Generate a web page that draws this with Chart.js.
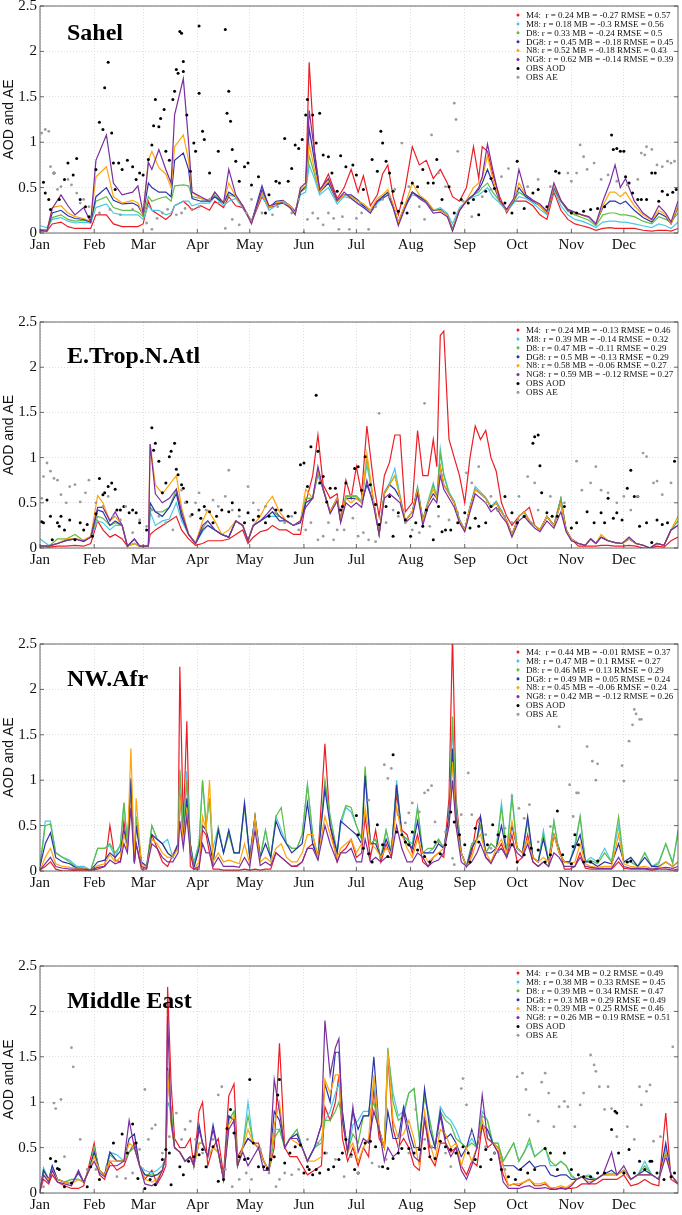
<!DOCTYPE html>
<html>
<head>
<meta charset="utf-8">
<script src="https://cdn.jsdelivr.net/npm/chart.js@4.4.0/dist/chart.umd.min.js"></script>
<style>
  body { margin: 0; background: #fff; width: 682px; height: 1215px; position: relative; overflow: hidden; }
  canvas { position: absolute; left: 0; }
</style>
</head>
<body>
<canvas id="c1" style="top:-6px"></canvas>
<canvas id="c2" style="top:310px"></canvas>
<canvas id="c3" style="top:632px"></canvas>
<canvas id="c4" style="top:954px"></canvas>
<script>
// month ticks (day of year)
const monthStarts = [0, 31, 59, 90, 120, 151, 181, 212, 243, 273, 304, 334];
const monthNames = ['Jan', 'Feb', 'Mar', 'Apr', 'May', 'Jun', 'Jul', 'Aug', 'Sep', 'Oct', 'Nov', 'Dec'];
const yTicks = [0, 0.5, 1, 1.5, 2, 2.5];

// ---------- Sahel ----------
const sahelDays = [0,4,7,12,16,20,25,29,32,38, 42,47,53,56,59,62,64,68,72,75, 77,82,85,87,92,97,100,105,108,112,
  116,121,127,131,135,139,143,146,149,152, 154,157,160,165,170,174,178,182,185,189, 193,196,199,202,205,209,213,217,221,225,
  229,233,236,240,244,248,251,253,256,259, 263,267,271,274,278,282,286,290,294,298, 302,306,310,314,318,322,326,329,332,335,
  340,345,350,354,358,361,365];
const sahelM4 = [0.02,0.02,0.10,0.12,0.07,0.05,0.05,0.05,0.20,0.20, 0.10,0.07,0.07,0.07,0.10,0.35,0.25,0.20,0.15,0.20,
  0.30,0.35,0.30,0.25,0.30,0.25,0.35,0.28,0.40,0.30, 0.28,0.12,0.40,0.28,0.30,0.35,0.28,0.22,0.45,0.50,
  1.88,0.90,0.45,0.65,0.38,0.50,0.70,0.45,0.63,0.30, 0.42,0.65,0.75,0.40,0.20,0.50,0.95,0.75,0.80,0.60,
  0.70,0.55,0.40,0.35,0.50,0.95,0.60,0.95,0.90,0.65, 0.40,0.22,0.35,0.35,0.35,0.30,0.20,0.15,0.45,0.25,
  0.15,0.10,0.08,0.06,0.03,0.05,0.06,0.05,0.05,0.05, 0.05,0.03,0.02,0.03,0.03,0.02,0.05];
const sahelM8 = [0.08,0.06,0.15,0.17,0.13,0.11,0.12,0.11,0.28,0.32, 0.22,0.20,0.20,0.20,0.15,0.30,0.25,0.25,0.20,0.22,
  0.30,0.35,0.35,0.30,0.33,0.33,0.40,0.30,0.35,0.38, 0.28,0.14,0.42,0.25,0.30,0.33,0.28,0.22,0.42,0.45,
  0.75,0.60,0.42,0.50,0.32,0.40,0.38,0.33,0.30,0.22, 0.33,0.38,0.42,0.28,0.10,0.30,0.42,0.40,0.35,0.25,
  0.28,0.22,0.10,0.28,0.35,0.40,0.42,0.45,0.50,0.40, 0.33,0.24,0.33,0.40,0.38,0.33,0.26,0.20,0.48,0.30,
  0.20,0.15,0.13,0.10,0.06,0.12,0.13,0.13,0.12,0.12, 0.10,0.08,0.06,0.10,0.08,0.05,0.12];
const sahelD8 = [0.04,0.03,0.17,0.20,0.15,0.13,0.14,0.12,0.35,0.40, 0.28,0.25,0.25,0.23,0.18,0.40,0.35,0.38,0.40,0.35,
  0.52,0.53,0.52,0.40,0.38,0.35,0.42,0.33,0.42,0.40, 0.30,0.12,0.45,0.28,0.33,0.35,0.30,0.22,0.45,0.50,
  0.85,0.65,0.45,0.55,0.35,0.42,0.40,0.35,0.32,0.25, 0.35,0.40,0.45,0.30,0.12,0.32,0.45,0.40,0.35,0.25,
  0.25,0.20,0.05,0.25,0.35,0.42,0.45,0.50,0.55,0.45, 0.35,0.25,0.35,0.45,0.40,0.35,0.30,0.22,0.50,0.35,
  0.24,0.20,0.17,0.14,0.08,0.20,0.22,0.22,0.20,0.20, 0.18,0.13,0.10,0.18,0.15,0.12,0.22];
const sahelDG8 = [0.03,0.03,0.22,0.25,0.19,0.16,0.15,0.12,0.40,0.50, 0.36,0.32,0.33,0.30,0.20,0.55,0.50,0.45,0.45,0.40,
  0.80,0.88,0.70,0.38,0.35,0.35,0.40,0.33,0.45,0.40, 0.30,0.12,0.52,0.28,0.35,0.36,0.30,0.24,0.45,0.52,
  1.15,0.80,0.45,0.55,0.35,0.42,0.42,0.36,0.30,0.25, 0.35,0.40,0.45,0.30,0.12,0.30,0.45,0.40,0.35,0.25,
  0.26,0.20,0.04,0.25,0.36,0.42,0.48,0.55,0.70,0.55, 0.35,0.25,0.35,0.50,0.40,0.35,0.30,0.22,0.50,0.35,
  0.25,0.22,0.20,0.17,0.10,0.28,0.35,0.35,0.32,0.35, 0.25,0.17,0.12,0.22,0.18,0.10,0.28];
const sahelN8 = [0.03,0.02,0.28,0.30,0.22,0.18,0.16,0.13,0.62,0.73, 0.40,0.33,0.36,0.33,0.20,0.80,0.90,0.72,0.65,0.50,
  0.95,1.08,0.80,0.45,0.38,0.36,0.45,0.33,0.55,0.40, 0.30,0.12,0.45,0.28,0.33,0.35,0.30,0.22,0.48,0.52,
  0.98,0.70,0.45,0.58,0.35,0.42,0.40,0.35,0.32,0.25, 0.38,0.42,0.48,0.32,0.12,0.32,0.55,0.42,0.36,0.26,
  0.25,0.20,0.03,0.26,0.36,0.50,0.55,0.60,0.85,0.60, 0.35,0.25,0.36,0.55,0.42,0.36,0.30,0.22,0.52,0.36,
  0.26,0.22,0.20,0.17,0.10,0.30,0.45,0.45,0.40,0.45, 0.30,0.20,0.14,0.25,0.20,0.10,0.30];
const sahelNG8 = [0.03,0.02,0.27,0.42,0.30,0.20,0.28,0.12,0.80,1.08, 0.55,0.42,0.45,0.52,0.22,0.78,0.70,0.92,0.70,0.55,
  1.30,1.70,1.00,0.45,0.40,0.35,0.45,0.33,0.70,0.42, 0.30,0.10,0.48,0.30,0.32,0.33,0.28,0.20,0.50,0.55,
  1.35,0.90,0.48,0.60,0.36,0.45,0.38,0.32,0.28,0.22, 0.35,0.38,0.42,0.28,0.08,0.28,0.45,0.38,0.33,0.22,
  0.23,0.18,0.02,0.25,0.35,0.42,0.50,0.62,0.98,0.70, 0.36,0.26,0.38,0.70,0.42,0.36,0.32,0.24,0.55,0.36,
  0.26,0.23,0.20,0.18,0.10,0.35,0.55,0.75,0.50,0.60, 0.35,0.22,0.15,0.30,0.22,0.12,0.35];
const sahelAodDays = [2,3,5,6,8,11,14,16,19,21, 23,26,28,32,34,36,37,39,41,42, 43,45,47,50,53,55,57,59,62,64,
  65,66,68,69,71,72,74,76,77,78, 79,80,81,82,82,84,86,88,89,91, 91,93,94,97,102,106,107,108,109,110,
  112,114,117,119,121,125,129,131,135,137, 140,142,144,146,148,150,152,153,156,158, 160,162,165,167,170,
  172,175,179,181,185,190,193,195,196,198, 200,202,205,207,210,213,216,219,222,225, 227,230,234,237,241,245,248,251,255,258,
  260,266,270,273,277,282,285,290,295,297, 304,307,311,315,319,323,327,328,330,332, 334,335,337,339,342,344,347,350,352,354,
  356,359,362,364];
const sahelAodVals = [0.56,0.44,0.37,0.26,0.66,0.37,0.59,0.77,0.64,0.82, 0.37,0.29,0.18,0.70,1.22,1.14,1.60,1.88,1.10,0.77,
  0.48,0.77,0.70,0.80,0.73,0.59,0.66,0.64,0.81,0.97, 1.18,1.47,1.17,1.26,1.36,0.90,0.80,1.47,1.56,1.80,
  1.76,2.22,2.20,1.89,1.78,1.30,0.68,0.99,0.90,2.28, 1.54,1.12,1.03,0.66,0.90,2.24,1.32,1.56,1.23,0.92,
  0.79,0.57,0.73,0.77,0.53,0.62,0.22,0.42,0.57,0.55, 1.04,0.57,0.71,0.97,0.93,1.03,1.30,1.47,1.30,0.99, 1.32,0.86,0.84,0.66,0.46,
  0.85,0.73,0.75,0.64,0.48,0.81,0.68,1.12,0.99,0.79, 0.66,0.46,0.24,0.33,0.22,0.55,0.51,0.70,0.55,0.55,
  0.81,0.37,0.51,0.22,0.37,0.33,0.37,0.20,0.46,0.60, 0.49,0.33,0.22,0.79,0.27,0.44,0.48,0.29,0.68,0.66,
  0.22,0.22,0.24,0.26,0.27,0.29,1.08,0.92,0.93,0.90, 0.90,0.62,0.55,0.44,0.37,0.37,0.37,0.66,0.66,0.35, 0.46,0.42,0.45,0.48];
const sahelAeDays = [1,3,5,6,8,10,12,16,18,21, 23,25,28,34,40,46,53,61,64,67, 70,73,78,81,83,87,91,97,102,106,
  110,114,118,121,127,133,136,140,144,148, 151,153,156,159,162,165,168,171, 173,177,181,184,188,192,196,200,203,207,
  211,217,220,224,228,232,237,238,239,242, 247,253,258,264,268,273,279,285,292,302, 304,307,309,311,313,317,321,325,330,336,
  342,344,346,347,350,353,356,359,361,363];
const sahelAeVals = [1.10,1.14,1.12,0.73,0.66,0.48,0.51,0.59,0.53,0.44, 0.33,0.37,0.29,0.22,0.26,0.20,0.26,0.11,0.04,0.16,
  0.22,0.26,0.20,0.22,0.27,0.26,0.29,0.37,0.33,0.05, 0.15,0.09,0.22,0.37,0.22,0.20,0.29,0.33,0.22,0.37,
  0.00,0.15,0.22,0.16,0.09,0.22,0.16,0.04, 0.18,0.04,0.16,0.22,0.04,0.29,0.37,0.40,0.48,0.99,
  0.51,0.29,0.15,1.08,0.66,0.51,1.43,1.25,0.90,0.35, 0.18,0.40,0.48,0.62,0.71,0.44,0.51,0.59,0.51,0.66,
  0.57,0.66,0.97,0.84,0.70,0.77,0.59,0.64,0.57,0.53, 0.59,0.88,0.86,0.95,0.92,0.75,0.73,0.79,0.77,0.79];
const sahelStats = ['M4:  r = 0.24 MB = -0.27 RMSE = 0.57', 'M8: r = 0.18 MB = -0.3 RMSE = 0.56', 'D8: r = 0.33 MB = -0.24 RMSE = 0.5',
  'DG8: r = 0.45 MB = -0.18 RMSE = 0.45', 'N8: r = 0.52 MB = -0.18 RMSE = 0.43', 'NG8: r = 0.62 MB = -0.14 RMSE = 0.39', 'OBS AOD', 'OBS AE'];

// ---------- E.Trop.N.Atl ----------
const atlDays = [0,5,10,15,20,25,29,33,36,40, 43,47,50,54,57,62,63,66,70,74, 78,81,85,89,93,96,100,104,108,112,
  116,119,122,126,130,133,137,141,145,149, 152,156,159,162,166,170,172,175,178,181, 184,187,191,194,197,200,203,206,209,213,
  216,219,222,225,227,229,231,234,237,240, 243,246,249,252,255,258,261,264,267,270, 274,277,280,283,286,290,294,298,301,304,
  308,312,315,318,321,325,329,333,337,341, 345,349,353,357,361,365];
const atlM4 = [0.02,0.01,0.02,0.02,0.03,0.02,0.05,0.30,0.20,0.12, 0.15,0.10,0.02,0.05,0.02,0.02,0.15,0.20,0.25,0.30,
  0.35,0.20,0.10,0.03,0.05,0.08,0.08,0.08,0.10,0.15, 0.20,0.05,0.12,0.18,0.20,0.25,0.20,0.20,0.15,0.15,
  0.50,0.80,1.25,0.70,0.55,0.60,0.30,0.75,0.55,0.90, 0.60,1.35,0.70,0.35,0.80,0.95,1.25,1.25,0.40,0.50,
  1.30,0.80,0.80,1.20,0.90,2.35,2.40,1.20,1.00,0.80, 0.50,1.00,1.35,1.20,1.30,1.00,0.85,0.50,0.35,0.25,
  0.35,0.40,0.45,0.25,0.20,0.35,0.25,0.55,0.20,0.10, 0.02,0.02,0.02,0.02,0.03,0.03,0.02,0.02,0.03,0.02,
  0.00,0.00,0.02,0.01,0.08,0.12];
const atlM8 = [0.10,0.03,0.05,0.08,0.10,0.08,0.12,0.30,0.28,0.20, 0.25,0.25,0.02,0.05,0.02,0.02,0.40,0.25,0.30,0.32,
  0.50,0.30,0.15,0.05,0.18,0.25,0.20,0.15,0.12,0.30, 0.25,0.08,0.25,0.30,0.35,0.35,0.35,0.30,0.25,0.30,
  0.55,0.55,0.80,0.65,0.40,0.55,0.30,0.58,0.58,0.58, 0.52,0.92,0.50,0.15,0.62,0.72,0.88,0.58,0.30,0.40,
  0.68,0.32,0.52,0.72,0.55,1.10,0.82,0.62,0.52,0.32, 0.20,0.46,0.68,0.62,0.56,0.46,0.52,0.42,0.30,0.15,
  0.35,0.40,0.30,0.25,0.20,0.35,0.25,0.55,0.20,0.10, 0.05,0.03,0.10,0.05,0.12,0.08,0.06,0.05,0.10,0.05,
  0.03,0.00,0.05,0.03,0.20,0.30];
const atlD8 = [0.03,0.02,0.10,0.10,0.15,0.08,0.12,0.35,0.33,0.25, 0.28,0.25,0.02,0.05,0.02,0.02,0.45,0.40,0.40,0.45,
  0.65,0.35,0.15,0.05,0.22,0.30,0.20,0.15,0.12,0.30, 0.25,0.08,0.25,0.30,0.35,0.40,0.35,0.30,0.25,0.30,
  0.55,0.55,0.85,0.65,0.40,0.55,0.30,0.57,0.57,0.57, 0.50,1.00,0.50,0.15,0.60,0.70,0.80,0.57,0.30,0.40,
  0.67,0.30,0.50,0.70,0.55,1.05,0.80,0.60,0.50,0.30, 0.20,0.45,0.65,0.60,0.55,0.45,0.50,0.40,0.30,0.15,
  0.35,0.40,0.30,0.25,0.20,0.35,0.25,0.55,0.20,0.10, 0.05,0.03,0.10,0.05,0.12,0.08,0.06,0.05,0.10,0.05,
  0.03,0.00,0.05,0.03,0.20,0.30];
const atlDG8 = [0.02,0.02,0.05,0.09,0.10,0.08,0.12,0.42,0.40,0.25, 0.30,0.25,0.02,0.10,0.02,0.02,0.50,0.40,0.35,0.45,
  0.60,0.35,0.15,0.05,0.20,0.25,0.20,0.15,0.12,0.30, 0.25,0.08,0.25,0.30,0.35,0.40,0.30,0.30,0.25,0.28,
  0.50,0.55,0.85,0.65,0.40,0.55,0.30,0.55,0.55,0.55, 0.50,0.70,0.50,0.15,0.60,0.70,0.65,0.55,0.30,0.40,
  0.65,0.30,0.50,0.60,0.55,0.90,0.70,0.60,0.50,0.30, 0.20,0.45,0.65,0.60,0.55,0.45,0.50,0.40,0.30,0.15,
  0.35,0.40,0.30,0.25,0.20,0.35,0.25,0.50,0.20,0.10, 0.05,0.03,0.10,0.05,0.12,0.08,0.06,0.05,0.10,0.05,
  0.03,0.00,0.05,0.03,0.20,0.25];
const atlN8 = [0.02,0.02,0.05,0.10,0.10,0.09,0.13,0.58,0.50,0.30, 0.35,0.25,0.02,0.05,0.02,0.02,1.15,0.70,0.60,0.70,
  0.80,0.45,0.16,0.05,0.30,0.42,0.30,0.15,0.20,0.30, 0.25,0.08,0.25,0.35,0.50,0.57,0.40,0.30,0.25,0.30,
  0.65,0.55,0.85,0.65,0.40,0.55,0.30,0.55,0.50,0.55, 0.50,1.05,0.50,0.15,0.60,0.70,0.80,0.55,0.30,0.40,
  0.65,0.30,0.50,0.65,0.55,0.90,0.70,0.60,0.50,0.30, 0.20,0.45,0.65,0.60,0.55,0.45,0.50,0.40,0.30,0.15,
  0.35,0.40,0.30,0.25,0.20,0.35,0.25,0.50,0.20,0.10, 0.05,0.03,0.10,0.05,0.15,0.08,0.06,0.05,0.10,0.05,
  0.03,0.00,0.05,0.03,0.20,0.35];
const atlNG8 = [0.02,0.02,0.05,0.08,0.10,0.07,0.12,0.45,0.45,0.30, 0.40,0.25,0.02,0.10,0.02,0.02,1.15,0.60,0.50,0.55,
  0.65,0.40,0.15,0.05,0.25,0.30,0.20,0.15,0.12,0.30, 0.25,0.08,0.25,0.30,0.38,0.45,0.35,0.30,0.25,0.30,
  0.45,0.55,0.90,0.65,0.38,0.52,0.28,0.50,0.45,0.50, 0.45,0.75,0.45,0.15,0.55,0.60,0.55,0.50,0.28,0.35,
  0.60,0.25,0.45,0.55,0.50,0.80,0.65,0.55,0.45,0.28, 0.18,0.40,0.60,0.55,0.50,0.40,0.45,0.35,0.28,0.12,
  0.30,0.35,0.28,0.22,0.18,0.30,0.22,0.40,0.18,0.08, 0.05,0.03,0.10,0.05,0.12,0.08,0.06,0.05,0.12,0.05,
  0.03,0.00,0.05,0.03,0.20,0.25];
const atlAodDays = [1,2,4,6,7,10,11,12,14,17, 20,23,25,27,30,32,34,36,37,39, 41,43,44,46,48,51,53,55,57,61,
  64,65,66,68,70,72,74,75,77,78, 79,81,82,84,87,91,92,94,97,99, 101,104,108,110,114,117,119,122,125,129,
  131,135,138,142,146,149,151,153,155,158, 159,160,162,164,166,169, 172,173,175,180,182,184,186,189,192,194,
  198,200,202,205,209,212,215,219,221,225, 228,230,232,235,239,243,246,249,251,255, 258,262,266,270,273,277,282,283,285,286,
  287,290,293,296,300,304,307,313,317,321, 323,325,328,330,333,336,338,340,342,343, 347,350,353,356,359,363];
const atlAodVals = [0.29,0.28,0.53,0.35,0.09,0.28,0.24,0.35,0.20,0.31, 0.09,0.28,0.20,0.26,0.13,0.38,0.77,0.59,0.61,0.68,
  0.72,0.65,0.42,0.42,0.46,0.39,0.42,0.39,0.28,0.20, 1.33,1.08,1.16,0.96,0.61,0.72,1.01,1.07,1.16,0.87,
  0.81,0.70,0.66,0.51,0.37,0.42,0.33,0.46,0.40,0.28, 0.35,0.42,0.40,0.50,0.42,0.28,0.39,0.31,0.35,0.28,
  0.35,0.42,0.42,0.35,0.39,0.92,0.94,0.68,1.12,1.69, 1.07,0.72,0.79,0.51,0.66,0.66, 0.42,0.46,0.72,0.88,0.90,0.64,1.01,0.70,0.48,0.26,
  0.46,0.57,0.13,0.39,0.31,0.13,0.28,0.24,0.42,0.09, 0.46,0.18,0.20,0.20,0.28,0.39,0.22,0.33,0.24,0.28,
  0.46,0.42,0.57,0.39,0.28,0.35,1.16,1.23,1.25,0.91, 0.61,0.39,0.35,0.35,0.46,0.22,0.28,0.40,0.28,0.39,
  0.28,0.55,0.33,0.39,0.31,0.66,0.86,0.57,0.57,0.24, 0.28,0.06,0.31,0.26,0.28,0.96];
const atlAeDays = [1,2,4,6,8,10,12,15,17,20, 23,26,28,32,36,39,42,46,49,53, 57,61,64,68,72,76,81,83,86,89,
  91,95,99,102,106,108,110,114,119,122, 125,129,135,140,144,148,152,155,159,162, 165,168,170,174,179,182,185,188,192,194,
  198,202,205,209,213,217,220,223,228,234, 239,244,247,251,255,258,262,266,270,274, 279,283,285,292,300,307,310,315,318,321,
  325,330,334,338,342,345,347,351,353,356, 361];
const atlAeVals = [0.55,0.79,0.94,0.85,0.77,0.75,0.59,0.50,0.68,0.70, 0.51,0.61,0.75,0.50,0.46,0.57,0.35,0.31,0.46,0.17,
  0.31,0.24,0.42,0.35,0.28,0.20,0.64,0.50,0.35,0.50, 0.61,0.42,0.53,0.46,0.57,0.86,0.42,0.35,0.68,0.50,
  0.42,0.46,0.39,0.28,0.35,0.20,0.20,0.28,0.09,0.13, 0.28,0.09,0.20,0.20,0.33,0.13,0.17,0.09,0.07,1.49,
  0.28,0.42,0.35,0.28,0.20,0.17,1.60,0.24,0.35,0.31, 0.39,0.83,0.72,0.90,0.50,0.57,0.42,0.35,0.28,0.57,
  0.79,0.72,0.42,0.57,0.50,0.96,0.64,0.72,0.90,0.64, 0.61,0.50,0.57,0.42,0.57,1.05,1.01,0.72,0.74,0.59, 0.72];
const atlStats = ['M4:  r = 0.24 MB = -0.13 RMSE = 0.46', 'M8: r = 0.39 MB = -0.14 RMSE = 0.32', 'D8: r = 0.47 MB = -0.11 RMSE = 0.29',
  'DG8: r = 0.5 MB = -0.13 RMSE = 0.29', 'N8: r = 0.58 MB = -0.06 RMSE = 0.27', 'NG8: r = 0.59 MB = -0.12 RMSE = 0.27', 'OBS AOD', 'OBS AE'];

// ---------- NW.Afr ----------
const nwDays = [0,3,6,9,13,17,21,25,29,33, 37,40,43,46,48,50,52,54,55,58, 61,64,67,70,73,76,79,80,82,84,
  86,88,91,93,95,97,99,102,105,108, 111,114,117,120,123,126,129,132,135,138, 141,144,147,150,153,156,159,163,166,170,
  172,175,178,181,184,186,189,192,195,198, 201,204,207,210,213,216,219,222,225,228, 231,234,236,238,241,244,247,250,252,255,
  258,261,264,267,270,273,276,279,282,285, 288,291,294,297,300,303,306,309,312,315, 319,323,327,331,334,338,342,346,350,354,
  358,362,365];
const nwM4 = [0.01,0.05,0.10,0.02,0.00,0.00,0.01,0.01,0.01,0.02, 0.05,0.50,0.12,0.10,0.55,0.25,0.90,0.10,0.30,0.02,
  0.02,0.40,0.25,0.10,0.05,0.18,0.30,2.25,0.50,1.65, 0.05,0.02,0.02,0.45,0.40,0.20,0.02,0.02,0.01,0.01,
  0.01,0.01,0.02,0.01,0.02,0.01,0.02,0.02,0.20,0.15, 0.10,0.05,0.05,0.10,0.25,0.30,0.15,1.40,0.50,0.10,
  0.20,0.25,0.35,0.15,0.20,0.60,0.15,0.45,0.10,0.30, 0.15,0.85,0.45,0.40,0.20,0.40,0.10,0.05,0.15,0.20,
  0.15,0.80,2.60,0.80,0.20,0.05,0.20,0.55,0.60,0.15, 0.10,0.20,0.30,0.15,0.40,0.10,0.15,0.40,0.10,0.05,
  0.10,0.05,0.40,0.25,0.02,0.02,0.05,0.20,0.03,0.02, 0.02,0.02,0.02,0.10,0.03,0.02,0.02,0.02,0.01,0.02,
  0.02,0.01,0.02];
const nwM8 = [0.05,0.55,0.55,0.20,0.15,0.12,0.05,0.05,0.01,0.25, 0.25,0.28,0.15,0.30,0.75,0.30,1.00,0.10,0.60,0.10,
  0.05,0.50,0.35,0.30,0.35,0.15,0.30,1.10,0.40,1.10, 0.30,0.10,0.30,1.00,0.50,0.80,0.25,0.48,0.20,0.45,
  0.20,0.20,0.75,0.15,0.60,0.15,0.45,0.15,0.60,0.45, 0.30,0.25,0.25,0.40,0.95,0.40,0.15,0.95,0.60,0.20,
  0.50,0.70,0.65,0.50,0.35,1.10,0.30,0.35,0.15,0.45, 0.20,1.00,0.40,0.35,0.30,0.70,0.20,0.20,0.25,0.35,
  0.25,0.60,1.60,0.70,0.20,0.05,0.30,0.35,0.50,0.20, 0.30,0.25,0.75,0.20,0.85,0.25,0.20,0.55,0.15,0.10,
  0.45,0.10,0.55,0.20,0.10,0.10,0.30,0.60,0.10,0.15, 0.10,0.25,0.10,0.50,0.10,0.10,0.05,0.20,0.05,0.10,
  0.30,0.10,0.40];
const nwD8 = [0.05,0.50,0.52,0.20,0.15,0.10,0.04,0.03,0.01,0.25, 0.25,0.30,0.20,0.28,0.75,0.30,1.00,0.10,0.60,0.10,
  0.05,0.50,0.35,0.30,0.20,0.15,0.30,1.12,0.40,1.00, 0.30,0.05,0.30,1.00,0.50,0.80,0.10,0.48,0.20,0.40,
  0.20,0.20,0.70,0.15,0.60,0.15,0.45,0.15,0.60,0.70, 0.30,0.25,0.25,0.40,0.95,0.40,0.15,1.00,0.60,0.20,
  0.55,0.72,0.70,0.50,0.35,1.15,0.30,0.35,0.15,0.45, 0.20,0.95,0.40,0.35,0.25,0.70,0.20,0.25,0.25,0.35,
  0.25,0.60,1.70,0.70,0.20,0.05,0.30,0.35,0.50,0.20, 0.30,0.25,0.70,0.20,0.80,0.25,0.20,0.55,0.15,0.10,
  0.40,0.10,0.55,0.20,0.10,0.10,0.25,0.60,0.10,0.12, 0.08,0.20,0.10,0.60,0.10,0.10,0.05,0.20,0.05,0.08,
  0.30,0.08,0.45];
const nwDG8 = [0.05,0.30,0.42,0.15,0.10,0.08,0.03,0.03,0.01,0.10, 0.12,0.20,0.15,0.22,0.45,0.25,1.02,0.10,0.50,0.10,
  0.05,0.40,0.35,0.30,0.20,0.15,0.30,0.85,0.35,0.80, 0.30,0.03,0.25,0.50,0.45,0.30,0.10,0.45,0.20,0.45,
  0.20,0.20,0.75,0.15,0.60,0.15,0.30,0.15,0.55,0.40, 0.30,0.20,0.25,0.30,0.75,0.30,0.15,0.90,0.50,0.20,
  0.55,0.50,0.45,0.40,0.30,1.05,0.30,0.30,0.15,0.35, 0.20,0.95,0.40,0.30,0.25,0.55,0.20,0.20,0.20,0.30,
  0.25,0.60,1.35,0.60,0.20,0.05,0.25,0.35,0.60,0.20, 0.20,0.25,0.50,0.20,0.50,0.25,0.20,0.60,0.15,0.10,
  0.35,0.10,0.40,0.20,0.10,0.10,0.25,0.40,0.10,0.10, 0.05,0.10,0.08,0.30,0.10,0.15,0.05,0.15,0.05,0.05,
  0.10,0.05,0.10];
const nwN8 = [0.01,0.15,0.25,0.08,0.05,0.04,0.03,0.03,0.01,0.06, 0.08,0.18,0.10,0.15,0.40,0.25,1.35,0.10,0.80,0.08,
  0.04,0.35,0.30,0.20,0.15,0.15,0.25,0.85,0.30,0.70, 0.25,0.02,0.10,0.60,0.45,1.00,0.10,0.20,0.10,0.12,
  0.10,0.08,0.30,0.08,0.60,0.10,0.15,0.10,0.25,0.30, 0.15,0.10,0.10,0.20,0.40,0.40,0.15,0.60,0.40,0.15,
  0.25,0.30,0.35,0.20,0.30,0.70,0.30,0.25,0.15,0.25, 0.20,0.70,0.40,0.25,0.15,0.35,0.20,0.10,0.15,0.20,
  0.25,0.50,1.20,0.50,0.20,0.05,0.15,0.35,0.40,0.20, 0.10,0.25,0.35,0.20,0.55,0.25,0.20,0.35,0.15,0.10,
  0.15,0.10,0.40,0.20,0.10,0.08,0.10,0.30,0.08,0.05, 0.04,0.05,0.05,0.40,0.08,0.05,0.04,0.05,0.03,0.04,
  0.10,0.05,0.10];
const nwNG8 = [0.01,0.08,0.15,0.05,0.03,0.02,0.02,0.02,0.01,0.04, 0.05,0.12,0.08,0.10,0.30,0.20,0.70,0.08,0.30,0.05,
  0.03,0.30,0.25,0.15,0.10,0.10,0.20,0.55,0.25,0.60, 0.20,0.02,0.05,0.30,0.20,0.20,0.05,0.15,0.05,0.05,
  0.05,0.04,0.15,0.05,0.45,0.06,0.10,0.06,0.20,0.15, 0.10,0.05,0.06,0.10,0.25,0.25,0.12,0.50,0.30,0.10,
  0.20,0.20,0.25,0.10,0.10,0.35,0.10,0.15,0.10,0.15, 0.15,0.50,0.25,0.10,0.10,0.20,0.15,0.05,0.10,0.12,
  0.20,0.50,1.00,0.50,0.10,0.05,0.10,0.20,0.30,0.15, 0.08,0.20,0.25,0.15,0.30,0.20,0.15,0.30,0.10,0.05,
  0.10,0.05,0.20,0.15,0.05,0.05,0.05,0.15,0.05,0.04, 0.03,0.03,0.03,0.15,0.05,0.03,0.03,0.03,0.02,0.03,
  0.04,0.03,0.05];
const nwAodDays = [181,182,185,188,190,193,196,199,202,204, 207,209,211,213,216,220,223,226,229,232,
  235,237,240,243,246,249,251,256,259,262, 266,270,273,277,281,285,289,292,296,299, 304,305,306,308,311,315,319,336,338];
const nwAodVals = [0.61,0.40,0.25,0.19,0.10,0.51,0.29,0.16,1.28,0.43, 0.40,0.32,0.29,0.43,0.23,0.16,0.10,0.32,0.19,0.29,
  0.65,0.54,0.40,0.29,0.10,0.47,0.32,0.29,0.51,0.40, 0.38,0.29,0.10,0.18,0.25,0.23,0.10,0.18,0.66,0.18,
  0.08,0.27,0.40,0.29,0.10,0.10,0.11,0.10,0.11];
const nwAeDays = [188,197,199,201,205,209,211,213,217,220, 222,224,226,228,232,236,237,241,245,247,
  251,255,258,262,266,270,274,277,280,285, 292,297,303,305,307,308,313,316,318,319, 333,334,337,339,340,341,343,344];
const nwAeVals = [0.78,1.17,1.02,1.13,0.62,0.53,0.64,0.75,0.65,0.86, 0.89,0.94,0.54,0.32,0.43,0.14,0.07,0.62,1.08,0.62,
  0.54,0.40,0.25,0.21,0.47,0.82,0.69,0.58,0.73,0.32, 0.49,1.59,0.95,0.60,0.86,0.86,1.37,1.21,1.00,1.18,
  1.16,0.99,1.43,1.61,1.78,1.73,1.67,1.67];
const nwStats = ['M4:  r = 0.44 MB = -0.01 RMSE = 0.37', 'M8: r = 0.47 MB = 0.1 RMSE = 0.27', 'D8: r = 0.46 MB = 0.13 RMSE = 0.29',
  'DG8: r = 0.49 MB = 0.05 RMSE = 0.24', 'N8: r = 0.45 MB = -0.06 RMSE = 0.24', 'NG8: r = 0.42 MB = -0.12 RMSE = 0.26', 'OBS AOD', 'OBS AE'];

// ---------- Middle East ----------
const meDays = [0,2,5,7,10,14,18,22,25,28, 31,34,37,40,44,48,51,54,57,60, 64,67,70,72,73,75,77,80,83,86,
  88,91,93,96,99,102,105,108,111,113, 116,119,122,125,128,131,134,137,140,143, 147,150,153,157,161,163,166,169,171,173,
  176,179,182,185,188,191,194,197,199,202, 205,208,211,214,217,220,223,226,229,232, 235,238,241,244,247,250,253,256,259,262,
  265,268,271,274,277,280,283,286,289,292, 295,298,301,304,307,310,314,318,322,327, 330,334,338,342,346,350,354,358,361,365];
const meM4 = [0.02,0.15,0.10,0.20,0.12,0.08,0.05,0.05,0.08,0.30, 0.55,0.20,0.15,0.35,0.25,0.30,0.45,0.55,0.30,0.15,
  0.25,0.10,0.20,0.30,2.27,1.20,0.60,0.50,0.50,0.60, 0.30,0.90,1.00,0.30,0.50,0.60,0.20,1.07,1.20,0.40,
  0.50,0.60,0.55,0.55,0.35,0.25,0.50,1.65,0.50,0.40, 0.40,0.30,0.20,0.25,0.30,0.95,0.80,1.00,1.30,0.60,
  0.35,0.50,0.30,0.50,0.40,1.15,0.60,0.50,1.50,0.70, 0.50,0.60,0.50,0.30,0.25,0.85,0.40,0.30,0.55,0.55,
  0.45,0.50,0.30,0.20,0.35,0.30,0.75,0.50,0.55,0.45, 0.20,0.08,0.10,0.08,0.12,0.15,0.08,0.08,0.10,0.05,
  0.04,0.06,0.05,0.05,0.06,0.10,0.10,0.10,0.15,0.15, 0.15,0.20,0.08,0.10,0.15,0.10,0.08,0.88,0.15,0.10];
const meM8 = [0.02,0.28,0.15,0.30,0.15,0.12,0.15,0.15,0.12,0.25, 0.50,0.25,0.20,0.45,0.42,0.35,0.45,0.50,0.30,0.25,
  0.22,0.25,0.30,0.40,1.00,0.90,0.50,0.45,0.35,0.40, 0.30,0.55,0.55,0.40,0.50,0.45,0.15,0.80,0.90,0.30,
  0.50,1.00,0.55,0.50,0.35,0.25,0.70,0.70,0.50,0.60, 0.70,0.50,0.35,0.50,0.60,0.80,0.90,1.10,1.20,0.90,
  0.45,0.75,0.80,0.90,0.90,1.20,0.70,0.50,1.55,1.10, 0.85,0.90,1.10,1.15,0.60,1.10,0.80,0.50,0.95,0.85,
  0.80,0.70,0.55,0.50,0.60,0.50,0.90,0.80,0.55,0.55, 0.35,0.45,0.55,0.35,0.45,0.55,0.40,0.45,0.50,0.30,
  0.30,0.35,0.30,0.20,0.15,0.18,0.20,0.15,0.20,0.22, 0.20,0.25,0.15,0.20,0.35,0.20,0.15,0.50,0.20,0.10];
const meD8 = [0.02,0.25,0.15,0.25,0.15,0.12,0.15,0.15,0.12,0.25, 0.50,0.25,0.20,0.42,0.35,0.35,0.45,0.50,0.30,0.20,
  0.20,0.20,0.25,0.40,1.00,0.95,0.50,0.45,0.35,0.40, 0.30,0.55,0.55,0.40,0.50,0.45,0.15,0.80,0.90,0.30,
  0.50,0.85,0.55,0.50,0.35,0.25,0.60,0.70,0.50,0.60, 0.70,0.50,0.35,0.50,0.55,0.80,0.80,0.90,1.00,0.80,
  0.45,0.65,0.55,0.85,0.85,1.00,0.70,0.50,1.60,1.00, 0.80,0.85,1.10,1.15,0.60,1.05,0.80,0.50,0.90,0.80,
  0.75,0.60,0.55,0.50,0.55,0.50,0.85,0.80,0.55,0.55, 0.35,0.45,0.55,0.35,0.45,0.60,0.40,0.45,0.50,0.35,
  0.30,0.35,0.30,0.18,0.15,0.18,0.18,0.15,0.20,0.20, 0.20,0.25,0.15,0.20,0.30,0.20,0.15,0.45,0.20,0.10];
const meDG8 = [0.02,0.25,0.15,0.30,0.15,0.12,0.10,0.22,0.12,0.25, 0.45,0.25,0.20,0.45,0.35,0.35,0.60,0.65,0.30,0.20,
  0.18,0.20,0.25,0.40,1.38,0.80,0.50,0.45,0.35,0.40, 0.30,0.75,0.55,0.40,0.75,0.45,0.15,0.85,0.80,0.30,
  0.50,0.60,0.55,0.50,0.35,0.25,0.90,0.80,0.50,0.60, 0.65,0.50,0.35,0.50,0.75,1.20,1.00,1.55,1.55,0.90,
  0.45,0.90,0.70,0.85,0.85,1.50,0.70,0.50,0.90,0.60, 0.60,0.95,0.70,0.50,0.50,1.15,0.70,0.50,0.90,0.60,
  0.65,0.55,0.40,0.50,0.70,0.50,0.75,0.70,0.55,0.50, 0.30,0.30,0.30,0.25,0.30,0.35,0.28,0.30,0.30,0.20,
  0.18,0.20,0.20,0.15,0.15,0.18,0.15,0.15,0.20,0.25, 0.20,0.25,0.15,0.20,0.25,0.20,0.15,0.55,0.20,0.10];
const meN8 = [0.02,0.20,0.15,0.25,0.15,0.12,0.10,0.15,0.12,0.25, 0.40,0.25,0.20,0.35,0.35,0.35,0.55,0.50,0.30,0.15,
  0.12,0.15,0.25,0.40,1.35,0.75,0.50,0.45,0.35,0.40, 0.30,0.55,0.55,0.40,0.50,0.45,0.15,0.75,0.85,0.30,
  0.50,0.70,0.55,0.50,0.35,0.25,0.75,1.00,0.50,0.60, 0.55,0.50,0.35,0.35,0.40,1.25,1.10,1.30,1.30,0.80,
  0.45,0.55,0.35,0.50,0.60,1.30,0.70,0.50,1.55,0.80, 0.60,0.65,0.80,0.60,0.30,0.90,0.55,0.35,0.70,0.65,
  0.50,0.55,0.30,0.50,0.35,0.50,0.80,0.60,0.55,0.50, 0.30,0.08,0.10,0.10,0.12,0.15,0.10,0.10,0.12,0.06,
  0.06,0.08,0.06,0.10,0.15,0.18,0.12,0.15,0.20,0.20, 0.20,0.25,0.15,0.20,0.20,0.20,0.15,0.45,0.20,0.10];
const meNG8 = [0.02,0.20,0.12,0.25,0.12,0.10,0.08,0.25,0.12,0.25, 0.35,0.22,0.18,0.30,0.30,0.35,0.80,0.50,0.30,0.10,
  0.08,0.12,0.25,0.40,1.95,0.80,0.50,0.45,0.35,0.40, 0.30,0.70,0.55,0.40,0.70,0.45,0.15,0.70,0.80,0.30,
  0.45,0.30,0.40,0.50,0.25,0.25,1.25,0.90,0.50,0.60, 0.60,0.50,0.35,0.50,0.75,1.90,1.30,1.60,1.70,0.80,
  0.45,0.95,0.45,0.60,0.55,0.90,0.70,0.35,0.50,0.40, 0.45,0.90,0.60,0.40,0.35,0.80,0.50,0.50,0.85,0.55,
  0.40,0.50,0.25,0.15,0.30,0.50,1.08,0.60,0.55,0.45, 0.12,0.05,0.05,0.05,0.07,0.08,0.05,0.05,0.06,0.04,
  0.04,0.05,0.04,0.08,0.15,0.18,0.10,0.15,0.20,0.45, 0.20,0.30,0.15,0.20,0.20,0.20,0.15,0.40,0.20,0.10];
const meAodDays = [6,9,10,11,14,18,27,29,34,42, 47,50,53,55,56,60,63,66,70,72, 74,75,80,82,85,88,91,93,95,99,
  102,105,107,109,111,114,117,119,120,122, 125,128,130,132,134,136,137,140,143,146, 149,151,153,154,156,158,160,163,165,168, 171,
  173,175,178,180,182,186,189,192,196,199, 202,205,207,211,214,217,220,223,226,229, 232,235,238,242,245,249,252,255,258,260,
  264,268,272,275,279,283,289,292,296,300, 304,308,311,315,319,323,327,329,330,331, 334,337,340,343,346,349,350,353,357,361, 363];
const meAodVals = [0.38,0.35,0.27,0.26,0.07,0.11,0.07,0.29,0.15,0.55, 0.65,0.44,0.76,0.55,0.16,0.05,0.15,0.09,0.37,0.48,
  0.44,0.09,0.29,0.20,0.35,0.40,0.42,0.48,0.29,0.51, 0.13,0.15,0.71,0.92,0.66,0.40,0.37,0.38,1.25,0.55,
  0.29,0.29,0.27,0.37,0.40,1.08,1.25,0.33,0.44,0.51, 0.53,0.22,0.29,0.26,0.20,0.26,0.22,0.44,0.26,0.29, 0.37,
  0.44,0.59,0.42,0.26,0.22,0.55,0.57,0.51,0.29,0.27, 0.38,0.44,0.49,0.49,0.44,0.48,0.49,0.40,0.38,0.57,
  0.51,0.48,0.44,0.51,0.44,0.37,0.29,0.48,0.37,0.44, 0.26,0.18,0.15,0.26,0.22,0.26,0.49,0.44,0.26,0.44,
  0.26,0.20,0.18,0.18,0.22,0.22,0.70,0.90,0.88,0.44, 0.22,0.48,0.22,0.35,0.26,0.35,0.35,0.22,0.15,0.18, 0.22];
const meAeDays = [2,8,9,12,14,18,19,23,27,32, 38,44,49,53,57,60,62,64,66,70, 74,78,81,83,86,89,93,99,102,104,
  106,110,114,118,121,126,131,135,137,140, 144,148,153,159,164,169, 174,178,182,190,194,198,202,205,211,215,
  220,224,228,232,235,241,242,244,247,251, 255,260,266,273,276,278,280,285,287,289, 291,294,297,300,302,306,309,311,315,317,
  318,320,323,325,327,330,336,340,343,344, 347,349,351,355,358,362];
const meAeVals = [0.07,0.99,0.93,1.03,0.40,1.60,1.39,0.59,0.26,0.26, 0.29,0.18,0.16,0.22,0.48,1.14,0.59,0.71,0.75,0.44,
  0.62,0.88,0.59,0.70,0.79,0.59,0.44,0.59,1.08,1.17, 0.26,0.07,0.15,0.22,0.15,0.48,0.22,0.07,0.15,0.22,
  0.20,0.26,0.59,0.55,0.44,0.37, 0.18,0.40,0.22,0.33,0.29,0.37,0.73,0.51,0.44,0.92,
  0.59,0.51,0.66,0.44,0.29,1.15,1.26,0.97,0.66,0.59, 0.51,0.44,0.26,1.28,1.32,1.14,0.86,0.79,1.22,1.32,
  1.10,0.73,0.95,1.01,0.95,0.73,0.97,1.10,1.52,1.41, 1.34,1.17,0.92,1.17,0.93,0.62,0.73,0.59,1.17,0.97,
  1.12,1.19,0.57,0.62,0.40,1.61];
const meStats = ['M4:  r = 0.34 MB = 0.2 RMSE = 0.49', 'M8: r = 0.38 MB = 0.33 RMSE = 0.45', 'D8: r = 0.39 MB = 0.34 RMSE = 0.47',
  'DG8: r = 0.3 MB = 0.29 RMSE = 0.49', 'N8: r = 0.39 MB = 0.25 RMSE = 0.46', 'NG8: r = 0.26 MB = 0.19 RMSE = 0.51', 'OBS AOD', 'OBS AE'];

const lineColors = ['rgb(238,28,36)', 'rgb(72,200,232)', 'rgb(96,190,64)', 'rgb(44,52,170)', 'rgb(255,165,10)', 'rgb(122,46,160)'];
const aodColor = '#000000';
const aeColor = '#9c9c9c';
const serif = '"Liberation Serif", "Times New Roman", serif';

// title, legend and box drawn inside the axes
const panelDecor = {
  id: 'panelDecor',
  afterDatasetsDraw(chart, args, opts) {
    const ctx = chart.ctx;
    const a = chart.chartArea;
    const ys = chart.scales.y;
    const xs = chart.scales.x;
    ctx.save();
    ctx.strokeStyle = '#444';
    ctx.lineWidth = 0.8;
    ctx.strokeRect(a.left, a.top, a.right - a.left, a.bottom - a.top);
    ctx.beginPath();
    yTicks.forEach(v => {
      const py = ys.getPixelForValue(v);
      ctx.moveTo(a.left, py); ctx.lineTo(a.left + 4, py);
      ctx.moveTo(a.right, py); ctx.lineTo(a.right - 4, py);
    });
    monthStarts.forEach(d => {
      const px = xs.getPixelForValue(d);
      ctx.moveTo(px, a.bottom); ctx.lineTo(px, a.bottom - 4);
    });
    ctx.stroke();

    ctx.fillStyle = '#000';
    ctx.font = 'bold 24px ' + serif;
    ctx.textBaseline = 'alphabetic';
    ctx.fillText(opts.title, a.left + 27, a.top + opts.titleDy);

    ctx.font = '9px ' + serif;
    ctx.textBaseline = 'middle';
    chart.data.datasets.forEach((ds, i) => {
      const y = a.top + opts.legendDy + i * 8.9;
      ctx.fillStyle = ds.showLine === false ? ds.pointBackgroundColor : ds.borderColor;
      ctx.beginPath();
      ctx.arc(518, y, 1.5, 0, Math.PI * 2);
      ctx.fill();
      ctx.fillStyle = '#111';
      ctx.fillText(ds.label, 526, y + 0.5);
    });
    ctx.restore();
  }
};

function pts(xs, ys) {
  return xs.map((x, i) => ({ x: x, y: ys[i] }));
}

function makePanel(id, height, days, series, aodDays, aodVals, aeDays, aeVals, stats, title, titleDy, legendDy) {
  const cv = document.getElementById(id);
  cv.width = 682; cv.height = height;
  cv.style.width = '682px'; cv.style.height = height + 'px';

  const datasets = series.map((vals, i) => ({
    type: 'line',
    label: stats[i],
    data: pts(days, vals),
    borderColor: lineColors[i],
    borderWidth: 1.2,
    pointRadius: 0,
    tension: 0,
    fill: false,
    order: 10 - i
  }));
  datasets.push({
    type: 'line', label: stats[6], data: pts(aodDays, aodVals), showLine: false,
    pointRadius: 1.5, pointBorderWidth: 0, pointBackgroundColor: aodColor, backgroundColor: aodColor, order: 2
  });
  datasets.push({
    type: 'line', label: stats[7], data: pts(aeDays, aeVals), showLine: false,
    pointRadius: 1.4, pointBorderWidth: 0, pointBackgroundColor: aeColor, backgroundColor: aeColor, order: 1
  });

  new Chart(cv, {
    type: 'line',
    data: { datasets: datasets },
    options: {
      responsive: false,
      animation: false,
      layout: { padding: { top: 12, right: 1, left: 0, bottom: 0 } },
      plugins: {
        legend: { display: false },
        tooltip: { enabled: false },
        panelDecor: { title: title, titleDy: titleDy, legendDy: legendDy }
      },
      scales: {
        x: {
          type: 'linear', min: 0, max: 365,
          afterBuildTicks: s => { s.ticks = monthStarts.map(v => ({ value: v })); },
          afterFit: s => { s.height = 22; },
          ticks: {
            autoSkip: false, maxRotation: 0, padding: 3, color: '#111',
            font: { family: serif, size: 15 },
            callback: (v, i) => monthNames[i]
          },
          grid: { color: '#d6d6d6', lineWidth: 0.8, drawTicks: false },
          border: { display: false, dash: [1, 2] }
        },
        y: {
          min: 0, max: 2.5,
          afterBuildTicks: s => { s.ticks = yTicks.map(v => ({ value: v })); },
          afterFit: s => { s.width = 40; },
          ticks: {
            padding: 3, color: '#111', font: { family: serif, size: 15 },
            callback: v => String(v)
          },
          title: {
            display: true, text: 'AOD and AE', color: '#111',
            font: { family: '"Liberation Sans", Arial, sans-serif', size: 14 },
            padding: { top: 1, bottom: 0 }
          },
          grid: { color: '#d6d6d6', lineWidth: 0.8, drawTicks: false },
          border: { display: false, dash: [1, 2] }
        }
      }
    },
    plugins: [panelDecor]
  });
}

makePanel('c1', 261, sahelDays, [sahelM4, sahelM8, sahelD8, sahelDG8, sahelN8, sahelNG8],
  sahelAodDays, sahelAodVals, sahelAeDays, sahelAeVals, sahelStats, 'Sahel', 34, 9);
makePanel('c2', 260, atlDays, [atlM4, atlM8, atlD8, atlDG8, atlN8, atlNG8],
  atlAodDays, atlAodVals, atlAeDays, atlAeVals, atlStats, 'E.Trop.N.Atl', 41, 8);
makePanel('c3', 261, nwDays, [nwM4, nwM8, nwD8, nwDG8, nwN8, nwNG8],
  nwAodDays, nwAodVals, nwAeDays, nwAeVals, nwStats, 'NW.Afr', 42, 8);
makePanel('c4', 261, meDays, [meM4, meM8, meD8, meDG8, meN8, meNG8],
  meAodDays, meAodVals, meAeDays, meAeVals, meStats, 'Middle East', 42, 7);
</script>
</body>
</html>
